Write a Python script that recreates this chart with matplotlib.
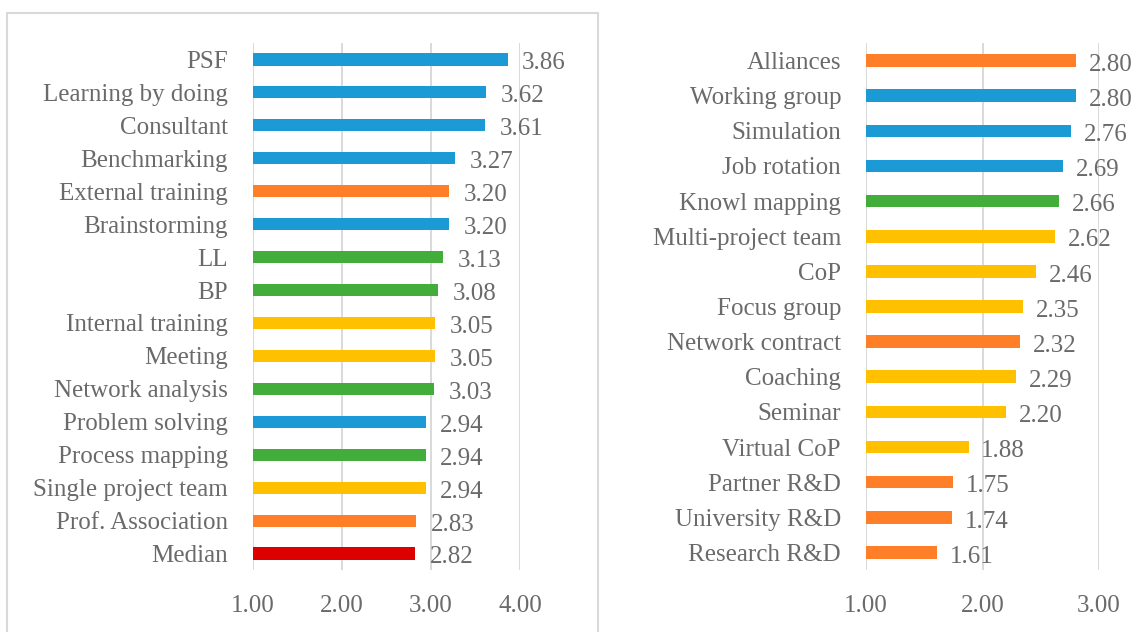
import matplotlib
matplotlib.use('Agg')
from matplotlib import pyplot as plt
from matplotlib.patches import Rectangle

BLUE = '#1C9AD6'
ORANGE = '#FE7F27'
GREEN = '#42AD3A'
YELLOW = '#FFC000'
RED = '#DD0000'

left_labels = ["PSF", "Learning by doing", "Consultant", "Benchmarking", "External training",
               "Brainstorming", "LL", "BP", "Internal training", "Meeting", "Network analysis",
               "Problem solving", "Process mapping", "Single project team", "Prof. Association", "Median"]
left_values = [3.86, 3.62, 3.61, 3.27, 3.20, 3.20, 3.13, 3.08, 3.05, 3.05, 3.03, 2.94, 2.94, 2.94, 2.83, 2.82]
left_colors = [BLUE, BLUE, BLUE, BLUE, ORANGE, BLUE, GREEN, GREEN, YELLOW, YELLOW, GREEN,
               BLUE, GREEN, YELLOW, ORANGE, RED]
left_ticks = [1.0, 2.0, 3.0, 4.0]

right_labels = ["Alliances", "Working group", "Simulation", "Job rotation", "Knowl mapping",
                "Multi-project team", "CoP", "Focus group", "Network contract", "Coaching",
                "Seminar", "Virtual CoP", "Partner R&D", "University R&D", "Research R&D"]
right_values = [2.80, 2.80, 2.76, 2.69, 2.66, 2.62, 2.46, 2.35, 2.32, 2.29, 2.20, 1.88, 1.75, 1.74, 1.61]
right_colors = [ORANGE, BLUE, BLUE, BLUE, GREEN, YELLOW, YELLOW, YELLOW, ORANGE, YELLOW,
                YELLOW, YELLOW, ORANGE, ORANGE, ORANGE]
right_ticks = [1.0, 2.0, 3.0]

TXT = '#6a6a6a'
GRID = '#d9d9d9'
plt.rcParams['font.family'] = ['Liberation Serif', 'DejaVu Serif']
FS = 18

fig = plt.figure(figsize=(11.34, 6.32), dpi=100)

def drawPanel(ax, labels, values, colors, ticks, barh):
	n = len(values)
	ys = list(range(n))
	ax.barh(ys, [v - ticks[0] for v in values], left=ticks[0], height=barh, color=colors, zorder=3)
	for y, v in zip(ys, values):
		ax.text(v + (ticks[-1] - ticks[0]) * 0.055, y + 0.12, "{:.2f}".format(v), va='center', ha='left',
			fontsize=FS, color=TXT, clip_on=False)
	ax.set_ylim(n - 0.5, -0.5)
	ax.set_xlim(ticks[0], ticks[-1])
	ax.set_yticks(ys)
	ax.set_yticklabels(labels, fontsize=FS, color=TXT)
	ax.set_xticks(ticks)
	ax.set_xticklabels(["{:.2f}".format(t) for t in ticks], fontsize=FS, color=TXT)
	ax.tick_params(axis='both', length=0)
	ax.tick_params(axis='y', pad=18)
	ax.tick_params(axis='x', pad=18)
	ax.grid(axis='x', color=GRID, linewidth=1.4, zorder=0)
	for s in ax.spines.values():
		s.set_visible(False)
	ax.set_facecolor('none')

axL = fig.add_axes([253/1134, 1 - 570/632, 267/1134, 527/632])
drawPanel(axL, left_labels, left_values, left_colors, left_ticks, 0.37)

axR = fig.add_axes([866/1134, 1 - 570/632, 233/1134, 527/632])
drawPanel(axR, right_labels, right_values, right_colors, right_ticks, 0.36)

# frame round the left panel
fig.patches.append(Rectangle((7/1134, -0.05), 591/1134, 1.05 - 13/632, transform=fig.transFigure,
	fill=False, edgecolor=GRID, linewidth=1.5))

fig.savefig('out.png', dpi=100, facecolor='white')
